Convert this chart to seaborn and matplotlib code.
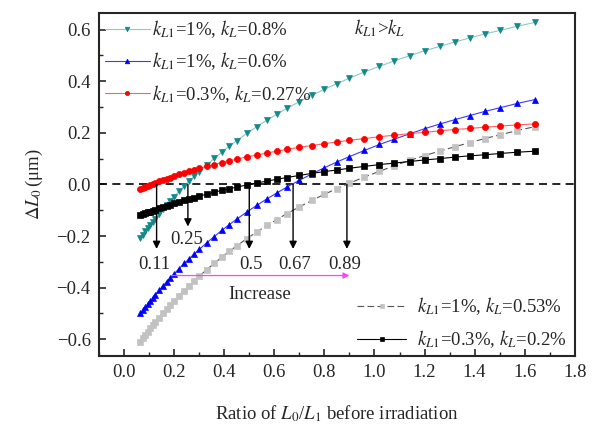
import matplotlib
matplotlib.use("Agg")
import matplotlib.pyplot as plt
import seaborn as sns
import pandas as pd
from matplotlib.ticker import MultipleLocator

# x: ratio L0/L1 before irradiation
ratio = [0.065, 0.075, 0.085, 0.095, 0.105, 0.115, 0.125, 0.14, 0.155, 0.17,
         0.185, 0.20, 0.22, 0.24, 0.26, 0.28, 0.30, 0.33, 0.36, 0.39,
         0.42, 0.45, 0.49, 0.53, 0.57, 0.61, 0.65, 0.70, 0.75, 0.80,
         0.85, 0.90, 0.96, 1.02, 1.08, 1.14, 1.20, 1.26, 1.32, 1.38,
         1.44, 1.50, 1.57, 1.64]

# delta L0 (um) for each parameter pair
dl_1_08 = [-0.208, -0.195, -0.182, -0.169, -0.156, -0.144, -0.132, -0.114, -0.096, -0.079,
           -0.063, -0.047, -0.026, -0.006, 0.013, 0.032, 0.050, 0.076, 0.101, 0.125,
           0.148, 0.170, 0.198, 0.224, 0.249, 0.272, 0.295, 0.321, 0.346, 0.369,
           0.391, 0.412, 0.436, 0.458, 0.479, 0.499, 0.518, 0.535, 0.552, 0.568,
           0.583, 0.597, 0.613, 0.628]
dl_1_06 = [-0.500, -0.488, -0.475, -0.463, -0.451, -0.439, -0.427, -0.410, -0.393, -0.377,
           -0.361, -0.346, -0.326, -0.306, -0.288, -0.269, -0.252, -0.226, -0.202, -0.178,
           -0.156, -0.134, -0.107, -0.081, -0.056, -0.033, -0.010, 0.016, 0.041, 0.065,
           0.087, 0.108, 0.132, 0.155, 0.176, 0.196, 0.216, 0.234, 0.251, 0.267,
           0.283, 0.297, 0.314, 0.329]
dl_03_027 = [-0.017, -0.013, -0.009, -0.005, -0.001, 0.003, 0.006, 0.012, 0.017, 0.022,
             0.027, 0.032, 0.039, 0.045, 0.051, 0.056, 0.062, 0.070, 0.077, 0.085,
             0.092, 0.098, 0.107, 0.114, 0.122, 0.129, 0.136, 0.144, 0.151, 0.158,
             0.165, 0.171, 0.178, 0.185, 0.191, 0.197, 0.202, 0.208, 0.213, 0.217,
             0.222, 0.226, 0.231, 0.235]
dl_1_053 = [-0.609, -0.596, -0.583, -0.570, -0.558, -0.546, -0.534, -0.517, -0.500, -0.483,
            -0.467, -0.451, -0.431, -0.411, -0.392, -0.374, -0.356, -0.330, -0.306, -0.282,
            -0.259, -0.238, -0.210, -0.184, -0.159, -0.136, -0.113, -0.087, -0.062, -0.038,
            -0.016, 0.005, 0.029, 0.051, 0.073, 0.093, 0.112, 0.129, 0.146, 0.162,
            0.178, 0.192, 0.209, 0.224]
dl_03_02 = [-0.120, -0.116, -0.112, -0.108, -0.105, -0.101, -0.098, -0.093, -0.088, -0.083,
            -0.078, -0.073, -0.067, -0.062, -0.056, -0.051, -0.045, -0.038, -0.030, -0.023,
            -0.017, -0.010, -0.002, 0.006, 0.013, 0.020, 0.027, 0.035, 0.043, 0.050,
            0.056, 0.063, 0.070, 0.077, 0.083, 0.089, 0.095, 0.100, 0.106, 0.111,
            0.115, 0.120, 0.125, 0.129]

# zero-crossing annotations
cross_x = [0.13, 0.255, 0.50, 0.675, 0.89]
cross_tip = [-0.25, -0.163, -0.25, -0.25, -0.25]
cross_text = ["0.11", "0.25", "0.5", "0.67", "0.89"]
cross_text_x = [0.12, 0.25, 0.505, 0.68, 0.88]
cross_text_y = [-0.31, -0.215, -0.31, -0.31, -0.31]

sns.set_style("ticks")
plt.rcParams["font.family"] = ["Liberation Serif", "DejaVu Serif"]
plt.rcParams["mathtext.fontset"] = "stix"
plt.rcParams["xtick.direction"] = "in"
plt.rcParams["ytick.direction"] = "in"

df = pd.DataFrame({"ratio": ratio, "a": dl_1_08, "b": dl_1_06, "c": dl_03_027,
                   "d": dl_1_053, "e": dl_03_02})

fig = plt.figure(figsize=(6, 4.3), dpi=100)
ax = fig.add_axes([0.165, 0.172, 0.793, 0.798])

ax.axhline(0, color="k", lw=1.2, ls=(0, (4.8, 3.2)), zorder=1)

# series: column, label, marker, marker colour, line colour, line style, marker size
series = [
    ("d", r"$k_{L1}$=1%, $k_L$=0.53%", "s", "#c2c2c2", "#555555", (0, (6, 3)), 3.8),
    ("b", r"$k_{L1}$=1%, $k_L$=0.6%", "^", "#0000ff", "#3a3aff", "-", 4.7),
    ("a", r"$k_{L1}$=1%, $k_L$=0.8%", "v", "#12898a", "#8ccac6", "-", 4.7),
    ("c", r"$k_{L1}$=0.3%, $k_L$=0.27%", "o", "#ff0000", "#ff6060", "-", 4.4),
    ("e", r"$k_{L1}$=0.3%, $k_L$=0.2%", "s", "#000000", "#000000", "-", 3.8),
]
handles = {}
for col, lab, mk, mc, lc, ls, ms in series:
    sns.lineplot(data=df, x="ratio", y=col, ax=ax, color=lc, lw=0.8, ls=ls,
                 marker=mk, markersize=ms, markerfacecolor=mc, markeredgecolor=mc,
                 markeredgewidth=0.5, label=lab, legend=False)
    handles[col] = ax.get_lines()[-1]

leg1 = ax.legend([handles["a"], handles["b"], handles["c"]],
                 [series[2][1], series[1][1], series[3][1]],
                 loc="upper left", bbox_to_anchor=(0.0, 1.0), frameon=False,
                 fontsize=13.5, handlelength=2.4, handletextpad=0.1, markerscale=0.7,
                 labelspacing=0.55, borderaxespad=0.2, borderpad=0.1)
ax.add_artist(leg1)
ax.legend([handles["d"], handles["e"]], [series[0][1], series[4][1]],
          loc="lower right", bbox_to_anchor=(0.995, 0.0), frameon=False,
          fontsize=13.5, handlelength=2.6, handletextpad=0.6, markerscale=0.7,
          labelspacing=0.6, borderaxespad=0.2, borderpad=0.1)

ax.text(1.02, 0.605, r"$k_{L1}$>$k_L$", fontsize=13.5, ha="center", va="center")

for xc, tip, tx, txx, txy in zip(cross_x, cross_tip, cross_text, cross_text_x, cross_text_y):
    ax.annotate("", xy=(xc, tip), xytext=(xc, 0),
                arrowprops=dict(arrowstyle="-|>", color="k", lw=1.0,
                                mutation_scale=11, shrinkA=0, shrinkB=0))
    ax.text(txx, txy, tx, fontsize=13.5, ha="center", va="center")

ax.annotate("", xy=(0.90, -0.353), xytext=(0.19, -0.353),
            arrowprops=dict(arrowstyle="-|>", color="#ff40ff", lw=0.9,
                            mutation_scale=9, shrinkA=0, shrinkB=0))
ax.text(0.54, -0.425, "Increase", fontsize=13.5, ha="center", va="center")

ax.set_xlim(-0.1, 1.8)
ax.set_ylim(-0.665, 0.665)
ax.xaxis.set_major_locator(MultipleLocator(0.2))
ax.xaxis.set_minor_locator(MultipleLocator(0.1))
ax.yaxis.set_major_locator(MultipleLocator(0.2))
ax.yaxis.set_minor_locator(MultipleLocator(0.1))
ax.tick_params(which="major", length=5, width=1.2, labelsize=13.5, pad=6)
ax.tick_params(which="minor", length=3, width=1.0)
for sp in ax.spines.values():
    sp.set_linewidth(1.5)

ax.set_xlabel(r"Ratio of $L_0$/$L_1$ before irradiation", fontsize=13.5, labelpad=16)
ax.set_ylabel(r"$\Delta L_0\,$(μm)", fontsize=13.5, labelpad=8)

fig.savefig("out.png", dpi=100)
